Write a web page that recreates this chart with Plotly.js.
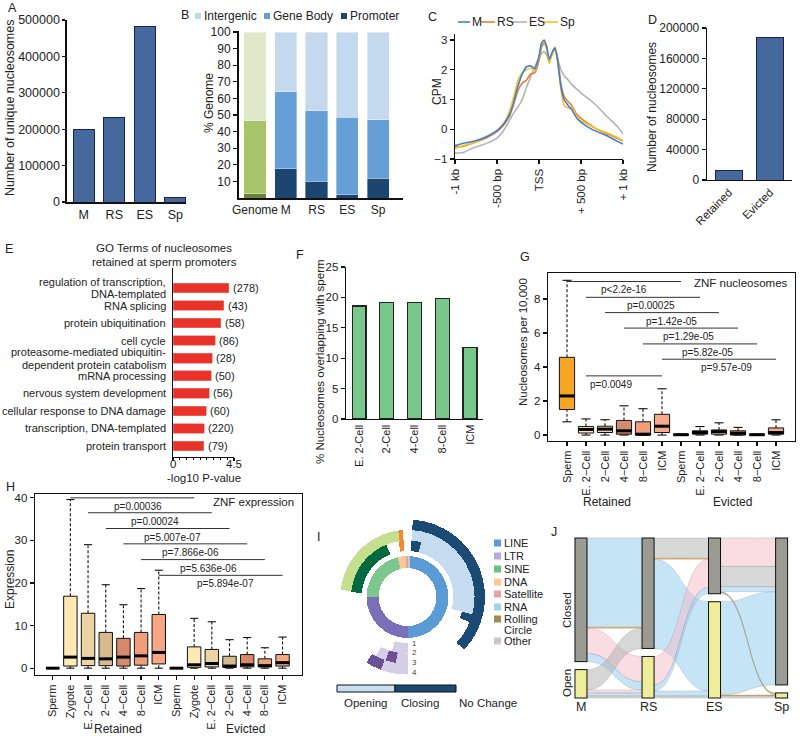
<!DOCTYPE html>
<html><head><meta charset="utf-8">
<script src="https://cdn.plot.ly/plotly-3.0.1.min.js"></script>
<style>html,body{margin:0;padding:0;background:#fff}#chart{width:800px;height:738px}</style>
</head><body><div id="chart"></div>
<script>
// ================= DATA =================
// A
const aCats = ['M', 'RS', 'ES', 'Sp'];
const aVals = [200000, 232000, 481000, 12000];
// B
const bCats = ['Genome', 'M', 'RS', 'ES', 'Sp'];
const bPromoter = [2.5, 17.5, 10, 2, 12];
const bGeneBody = [44, 46.5, 42.5, 46.5, 35];
const bIntergenic = [53.5, 36, 47.5, 51.5, 53];
// C
const cPos = [-1000,-900,-800,-700,-600,-500,-450,-400,-350,-300,-250,-200,-150,-100,-50,0,30,60,90,120,160,190,220,260,300,340,390,450,530,610,690,810,930,1000];
const cM  = [-0.55,-0.47,-0.42,-0.34,-0.22,-0.05,0.08,0.25,0.5,0.92,1.45,1.85,2.1,2.13,2.03,2.45,2.9,3.0,2.8,2.35,2.6,2.72,2.35,1.45,1.0,0.82,0.65,0.37,0.17,0.03,-0.08,-0.22,-0.4,-0.5];
const cRS = [-0.6,-0.57,-0.48,-0.38,-0.25,-0.08,0.05,0.22,0.45,0.85,1.3,1.55,1.65,1.85,1.9,2.3,2.75,2.9,2.75,2.3,2.6,2.75,2.4,1.55,1.1,0.95,0.8,0.5,0.3,0.15,0.0,-0.15,-0.3,-0.4];
const cES = [-0.8,-0.78,-0.65,-0.55,-0.45,-0.3,-0.15,0.05,0.3,0.55,0.75,1.0,1.4,1.75,2.1,2.4,2.55,2.6,2.5,2.3,2.55,2.7,2.4,2.0,1.8,1.68,1.5,1.35,1.15,0.98,0.78,0.43,0.1,-0.15];
const cSp = [-0.65,-0.55,-0.47,-0.36,-0.22,-0.05,0.1,0.3,0.6,1.1,1.65,1.9,2.0,2.05,2.0,2.4,2.85,2.95,2.7,2.2,2.55,2.7,2.3,1.35,0.8,0.72,0.72,0.45,0.25,0.12,0.0,-0.12,-0.28,-0.38];
const cTickVals = [-1000, -500, 0, 500, 1000];
const cTickText = ['-1 kb', '-500 bp', 'TSS', '+ 500 bp', '+ 1 kb'];
// D
const dCats = ['Retained', 'Evicted'];
const dVals = [13000, 188000];
// E
const eTerms = ['regulation of transcription,<br>DNA-templated', 'RNA splicing', 'protein ubiquitination', 'cell cycle',
  'proteasome-mediated ubiquitin-<br>dependent protein catabolism', 'mRNA processing', 'nervous system development',
  'cellular response to DNA damage', 'transcription, DNA-templated', 'protein transport'];
const eVals = [4.13, 3.76, 3.54, 3.10, 2.88, 2.83, 2.66, 2.46, 2.29, 2.26];
const eCounts = ['(278)', '(43)', '(58)', '(86)', '(28)', '(50)', '(56)', '(60)', '(220)', '(79)'];
const eTickVals = [0, 4.5];
const eTickText = ['0', '4.5'];
// F
const fCats = ['E. 2-Cell', '2-Cell', '4-Cell', '8-Cell', 'ICM'];
const fVals = [18.6, 19.1, 19.2, 19.8, 11.7];
// G
const gCats = ['Sperm', 'E. 2\u2212Cell', '2\u2212Cell', '4\u2212Cell', '8\u2212Cell', 'ICM', 'Sperm', 'E. 2\u2212Cell', '2\u2212Cell', '4\u2212Cell', '8\u2212Cell', 'ICM'];
const gLow  = [0.78, 0, 0, 0, 0, 0, 0, 0, 0, 0, 0, 0];
const gQ1   = [1.5, 0.12, 0.15, 0.05, 0.0, 0.15, 0, 0.05, 0.05, 0.0, 0, 0.05];
const gMed  = [2.3, 0.33, 0.35, 0.25, 0.05, 0.52, 0.02, 0.15, 0.2, 0.1, 0.02, 0.15];
const gQ3   = [4.57, 0.5, 0.52, 0.86, 0.78, 1.22, 0.05, 0.25, 0.3, 0.25, 0.05, 0.42];
const gHigh = [9.1, 0.95, 0.9, 1.72, 1.55, 2.72, 0.05, 0.5, 0.72, 0.45, 0.05, 0.9];
const gPairs = [[0, 6], [1, 7], [2, 8], [3, 9], [4, 10], [5, 11], [1, 5]];
const gPY = [9.03, 8.1, 7.2, 6.29, 5.36, 4.46, 3.48];
const gPText = ['p<2.2e-16', 'p=0.00025', 'p=1.42e-05', 'p=1.29e-05', 'p=5.82e-05', 'p=9.57e-09', 'p=0.0049'];
// H
const hCats = ['Sperm', 'Zygote', 'E. 2\u2212Cell', '2\u2212Cell', '4\u2212Cell', '8\u2212Cell', 'ICM', 'Sperm', 'Zygote', 'E. 2\u2212Cell', '2\u2212Cell', '4\u2212Cell', '8\u2212Cell', 'ICM'];
const hLow  = [0, 0, 0, 0, 0, 0, 0, 0, 0, 0, 0, 0, 0, 0];
const hQ1   = [0, 0.5, 0.6, 0.6, 0.5, 0.7, 1.0, 0, 0.2, 0.3, 0.2, 0.3, 0.3, 0.5];
const hMed  = [0, 2.6, 2.3, 2.2, 2.6, 2.9, 3.7, 0, 0.8, 1.1, 0.5, 0.8, 0.6, 1.3];
const hQ3   = [0.1, 16.9, 12.9, 8.4, 7.0, 8.4, 12.6, 0.1, 5.0, 4.4, 2.8, 3.2, 2.2, 3.2];
const hHigh = [0.1, 39.6, 29, 19.6, 14.9, 18.7, 23, 0.1, 11.7, 10.9, 6.7, 7.2, 4.8, 7.3];
const hPairs = [[1, 8], [2, 9], [3, 10], [4, 11], [5, 12], [6, 13]];
const hPY = [40.0, 36.5, 32.8, 29.2, 25.5, 21.8];
const hPText = ['p=0.00036', 'p=0.00024', 'p=5.007e-07', 'p=7.866e-06', 'p=5.636e-06', 'p=5.894e-07'];
// I (ring level, start/end angle in degrees clockwise from top, kind)
const iRing  = [1, 1, 1, 1, 1, 1,
  2, 2, 2, 2, 2, 2,
  3, 3, 3, 3, 3, 3,
  4, 4, 4];
const iStart = [4, 180, 270, 346, 358, 0,
  4, 14, 275, 351, 180, 188,
  4, 105, 276, 352, 180, 190,
  4, 180, 200];
const iEnd   = [180, 270, 346, 358, 360, 4,
  14, 105, 338, 356, 196, 192,
  105, 112, 352, 356, 208, 199,
  133, 200, 212];
const iKind  = ['LINE', 'LTR', 'SINE', 'DNA', 'Satellite', 'Other',
  'LINE-close', 'LINE-open', 'SINE-close', 'DNA-close', 'LTR-open', 'LTR-open',
  'LINE-open', 'LINE-close', 'SINE-open', 'DNA-close', 'LTR-open', 'LTR-close',
  'LINE-close', 'LTR-open', 'LTR-close'];
const iLegend = ['LINE', 'LTR', 'SINE', 'DNA', 'Satellite', 'RNA', 'Rolling', 'Circle', 'Other'];
// J (alluvial)
const jNodes = ['M Closed', 'M Open', 'RS Closed', 'RS Open', 'ES Closed', 'ES Open', 'Sp Closed', 'Sp Open'];
const jSource = [0, 0, 0, 0, 1, 1, 1, 1, 2, 2, 2, 3, 3, 3, 3, 5, 5, 5, 4, 4, 4, 4, 4];
const jTarget = [2, 2, 3, 3, 2, 3, 3, 3, 5, 4, 4, 4, 4, 5, 5, 6, 7, 7, 6, 6, 6, 7, 7];
const jValue  = [88, 1, 25, 8, 20, 3, 3, 2, 88, 20, 1, 28, 6, 5, 2, 92, 1, 2, 28, 20, 5, 1, 1];
const jType   = ['blue', 'orange', 'pink', 'blue', 'gray', 'pink', 'blue', 'gray', 'blue', 'gray', 'orange', 'pink', 'blue', 'blue', 'gray',
  'blue', 'orange', 'gray', 'pink', 'gray', 'blue', 'orange', 'blue'];

// ================= STYLE / HELPERS =================
const FONT = '"Liberation Sans", Arial, Helvetica, sans-serif';
const W = 800, H = 738;
const px = x => x / W, py = y => 1 - y / H;
const xd = (a, b) => [px(a), px(b)];
const yd = (top, bot) => [py(bot), py(top)];
const traces = [], annotations = [], shapes = [];
const TXT = '#222';
function ann(x, y, text, o) {
  return Object.assign({xref: 'paper', yref: 'paper', x: px(x), y: py(y), text: text, showarrow: false,
    font: {size: 11.5, color: TXT, family: FONT}, xanchor: 'center', yanchor: 'middle'}, o || {});
}
function rect(x0, y0, x1, y1, fill, line) {
  return {type: 'rect', xref: 'paper', yref: 'paper', x0: px(x0), x1: px(x1), y0: py(y0), y1: py(y1),
    fillcolor: fill, line: line || {width: 0}};
}
function ax(domain, extra) {
  return Object.assign({domain: domain, showline: true, linecolor: '#111', linewidth: 1.3, ticks: 'outside', ticklen: 4,
    tickwidth: 1.2, tickcolor: '#111', showgrid: false, zeroline: false, fixedrange: true,
    tickfont: {size: 11.5, family: FONT, color: TXT}}, extra);
}

// ---- A ----
traces.push({type: 'bar', x: aCats, y: aVals, width: 0.68, xaxis: 'x', yaxis: 'y',
  marker: {color: '#45699c', line: {color: '#1b1f5a', width: 1}}, hoverinfo: 'skip'});
// ---- B ----
const bCol = {
  pro: ['#6b7f3c', '#1c466f', '#1c466f', '#1c466f', '#1c466f'],
  gb: ['#a9c56c', '#659fd6', '#659fd6', '#659fd6', '#659fd6'],
  ig: ['#dfe9c9', '#c5d9ee', '#c5d9ee', '#c5d9ee', '#c5d9ee']
};
[[bPromoter, bCol.pro], [bGeneBody, bCol.gb], [bIntergenic, bCol.ig]].forEach(([v, c]) => {
  traces.push({type: 'bar', x: bCats, y: v, width: 0.72, xaxis: 'x2', yaxis: 'y2',
    marker: {color: c, line: {color: 'rgba(255,255,255,0.6)', width: 0.6}}, hoverinfo: 'skip'});
});
// ---- C ----
const cCols = {M: '#3f7fd4', RS: '#f27a36', ES: '#b3b3b3', Sp: '#f7c21a'};
[['ES', cES], ['RS', cRS], ['Sp', cSp], ['M', cM]].forEach(([n, v]) => {
  traces.push({type: 'scatter', mode: 'lines', x: cPos, y: v, xaxis: 'x3', yaxis: 'y3',
    line: {color: cCols[n], width: 1.6, shape: 'spline', smoothing: 0.4}, hoverinfo: 'skip'});
});
// ---- D ----
traces.push({type: 'bar', x: dCats, y: dVals, width: 0.68, xaxis: 'x4', yaxis: 'y4',
  marker: {color: '#45699c', line: {color: '#1b1f5a', width: 1}}, hoverinfo: 'skip'});
// ---- E ----
const eIdx = eTerms.map((_, i) => i);
traces.push({type: 'bar', orientation: 'h', y: eIdx, x: eVals, width: 0.55, xaxis: 'x5', yaxis: 'y5',
  marker: {color: '#e8322a', line: {color: '#f27a6e', width: 0.6}}, hoverinfo: 'skip'});
eVals.forEach((v, i) => annotations.push({xref: 'x5', yref: 'y5', x: v, y: i, text: eCounts[i], showarrow: false,
  xanchor: 'left', yanchor: 'middle', xshift: 2, font: {size: 11, family: FONT, color: TXT}}));
// category labels of E (two-line labels centred on their bar)
eTerms.forEach((t, i) => {
  const lines = t.split('<br>');
  lines.forEach((ln, k) => annotations.push({xref: 'paper', yref: 'y5', x: px(168), y: i, text: ln, showarrow: false,
    xanchor: 'right', yanchor: 'middle', yshift: (lines.length - 1) * 6.4 - k * 12.8, font: {size: 11, family: FONT, color: TXT}}));
});
eTickVals.forEach((v, k) => annotations.push({xref: 'x5', yref: 'paper', x: v, y: py(464), text: eTickText[k], showarrow: false,
  xanchor: 'center', yanchor: 'middle', font: {size: 11.5, family: FONT, color: TXT}}));
// ---- F ----
traces.push({type: 'bar', x: fCats, y: fVals, width: 0.5, xaxis: 'x6', yaxis: 'y6',
  marker: {color: '#78c88b', line: {color: '#222', width: 1.2}}, hoverinfo: 'skip'});

// ---- boxplots (G, H) ----
function boxes(xa, ya, lo, q1, md, q3, hi, cols, hw, cw) {
  const wx = [], wy = [], cx = [], cy = [], mx = [], my = [];
  lo.forEach((_, i) => {
    wx.push(i, i, null, i, i, null); wy.push(lo[i], q1[i], null, q3[i], hi[i], null);
    cx.push(i - cw, i + cw, null, i - cw, i + cw, null); cy.push(lo[i], lo[i], null, hi[i], hi[i], null);
    mx.push(i - hw, i + hw, null); my.push(md[i], md[i], null);
  });
  traces.push({type: 'scatter', mode: 'lines', x: wx, y: wy, xaxis: xa, yaxis: ya, line: {color: '#111', width: 1.1, dash: '3px,2px'}, hoverinfo: 'skip'});
  traces.push({type: 'scatter', mode: 'lines', x: cx, y: cy, xaxis: xa, yaxis: ya, line: {color: '#111', width: 1.1}, hoverinfo: 'skip'});
  lo.forEach((_, i) => {
    traces.push({type: 'scatter', mode: 'lines', x: [i - hw, i + hw, i + hw, i - hw, i - hw], y: [q1[i], q1[i], q3[i], q3[i], q1[i]],
      fill: 'toself', fillcolor: cols[i], line: {color: '#111', width: 1}, xaxis: xa, yaxis: ya, hoverinfo: 'skip'});
  });
  traces.push({type: 'scatter', mode: 'lines', x: mx, y: my, xaxis: xa, yaxis: ya, line: {color: '#000', width: 3}, hoverinfo: 'skip'});
}
function pLines(xa, ya, pairs, ys, labels, dx) {
  const lx = [], ly = [];
  pairs.forEach((p, i) => {
    lx.push(p[0], p[1], null); ly.push(ys[i], ys[i], null);
    annotations.push({xref: xa, yref: ya, x: (p[0] + p[1]) / 2 + (dx[i] || 0), y: ys[i], text: labels[i], showarrow: false,
      xanchor: 'center', yanchor: 'top', yshift: -1, font: {size: 10, family: FONT, color: TXT}});
  });
  traces.push({type: 'scatter', mode: 'lines', x: lx, y: ly, xaxis: xa, yaxis: ya, line: {color: '#333', width: 1}, hoverinfo: 'skip'});
}
const gCols = ['#f6a623', '#fdecb4', '#ecd6a2', '#d48a6c', '#f19e7e', '#f7a98b', '#f6a623', '#fdecb4', '#ecd6a2', '#d48a6c', '#f19e7e', '#f7a98b'];
boxes('x7', 'y7', gLow, gQ1, gMed, gQ3, gHigh, gCols, 0.4, 0.24);
pLines('x7', 'y7', gPairs, gPY, gPText, [0, 0.4, 0.5, 0.4, 0.4, 0.4, -0.7]);
const hCols = ['#fee8b3', '#fee8b3', '#edd3a3', '#d6b98c', '#d68a6b', '#f09d7c', '#f6a785', '#fee8b3', '#fee8b3', '#edd3a3', '#d6b98c', '#d68a6b', '#f09d7c', '#f6a785'];
boxes('x8', 'y8', hLow, hQ1, hMed, hQ3, hHigh, hCols, 0.38, 0.23);
pLines('x8', 'y8', hPairs, hPY, hPText, [0.3, 0.3, 0.3, 0.3, 0.3, 0.3]);

// ---- I (circular ring plot) ----
const iRadii = {1: [29, 41], 2: [46, 56.5], 3: [56.5, 67], 4: [67, 77.5]};
const iColors = {LINE: '#5b9bd5', LTR: '#7b70b8', SINE: '#7dc68e', DNA: '#fbc89b', Satellite: '#e6a3a3', Other: '#c8c8c8',
  'LINE-open': '#c5dcf0', 'LINE-close': '#1b4a74', 'SINE-open': '#c6df8e', 'SINE-close': '#006a3e', 'DNA-close': '#f08a2a',
  'LTR-open': '#d6cde6', 'LTR-close': '#6a5094'};
iRing.forEach((lv, k) => {
  const r = iRadii[lv];
  traces.push({type: 'barpolar', subplot: 'polar', theta: [(iStart[k] + iEnd[k]) / 2], width: [iEnd[k] - iStart[k]],
    base: [r[0]], r: [r[1] - r[0]], marker: {color: iColors[iKind[k]], line: {width: 0}}, hoverinfo: 'skip'});
});
const iLegCols = ['#5b9bd5', '#b8a8d6', '#6cc07e', '#fcc79a', '#e8a2a2', '#9fd6e4', '#9b8e55', null, '#c9c9c9'];
const iLegY = [543, 556, 569, 582, 594, 607, 619, 630, 641];
iLegend.forEach((t, k) => {
  const yy = iLegY[k];
  if (iLegCols[k]) shapes.push(rect(494, yy - 3.5, 501, yy + 3.5, iLegCols[k]));
  annotations.push(ann(502, yy, t, {xanchor: 'left', font: {size: 11, family: FONT, color: TXT}}));
});
['1', '2', '3', '4'].forEach((t, k) => annotations.push(ann(410, 643 + k * 9.7, t, {xanchor: 'left', font: {size: 8, family: FONT, color: '#444'}})));
shapes.push(rect(337, 685, 395, 692, '#c6dff2', {color: '#111', width: 1}));
shapes.push(rect(395, 685, 456, 692, '#1c4a75', {color: '#111', width: 1}));
annotations.push(ann(365, 703, 'Opening'), ann(420, 703, 'Closing'), ann(488, 703, 'No Change'));

// ---- J (alluvial / sankey) ----
const jTypeCol = {blue: 'rgba(150,208,240,0.55)', pink: 'rgba(245,185,200,0.5)', gray: 'rgba(175,175,175,0.5)', orange: 'rgba(247,160,30,0.95)'};
const jIn = jNodes.map(() => 0), jOut = jNodes.map(() => 0);
jValue.forEach((v, k) => { jOut[jSource[k]] += v; jIn[jTarget[k]] += v; });
const jTot = jNodes.map((_, i) => Math.max(jIn[i], jOut[i]));
const SK_H = 160, SK_PAD = 8;
const colSum = jTot[0] + jTot[1];
const ky = (SK_H - SK_PAD) / colSum;
const jColX = [0.028, 0.343, 0.655, 0.97];
const jx = [], jy = [];
for (let c = 0; c < 4; c++) {
  const hc = jTot[2 * c] * ky, ho = jTot[2 * c + 1] * ky;
  jx.push(jColX[c], jColX[c]);
  jy.push((hc / 2) / SK_H, (SK_H - ho / 2) / SK_H);
}
traces.push({type: 'sankey', arrangement: 'fixed', domain: {x: xd(575, 788), y: yd(538, 698)}, hoverinfo: 'none',
  node: {label: jNodes.map(() => ''), x: jx, y: jy, pad: SK_PAD, thickness: 12,
    color: jNodes.map((n) => n.indexOf('Closed') >= 0 ? '#9b9a93' : '#eeee9a'), line: {color: '#111', width: 1}, hoverinfo: 'none'},
  link: {source: jSource, target: jTarget, value: jValue, color: jType.map(t => jTypeCol[t]),
    line: {color: 'rgba(150,150,150,0.6)', width: 0.5}, hoverinfo: 'none'}});
annotations.push(ann(567, 610, 'Closed', {textangle: -90}), ann(567, 683, 'Open', {textangle: -90}));
[['M', 581], ['RS', 648], ['ES', 714], ['Sp', 781]].forEach(([t, x]) => annotations.push(ann(x, 707, t, {font: {size: 12.5, family: FONT, color: TXT}})));

// ---- legends B, C ----
[['#c5d9ee', 'Intergenic', 198], ['#659fd6', 'Gene Body', 267], ['#1c466f', 'Promoter', 344]].forEach(([c, t, x]) => {
  shapes.push(rect(x - 3, 13, x + 3, 19, c));
  annotations.push(ann(x + 4, 16, t, {xanchor: 'left', font: {size: 12, family: FONT, color: TXT}}));
});
[['M', 458, 470], ['RS', 481, 495], ['ES', 511, 527], ['Sp', 543, 558]].forEach(([n, x0, x1]) => {
  shapes.push({type: 'line', xref: 'paper', yref: 'paper', x0: px(x0), x1: px(x1), y0: py(22), y1: py(22), line: {color: cCols[n], width: 1.6}});
  annotations.push(ann(x1, 22, n, {xanchor: 'left', font: {size: 12, family: FONT, color: TXT}}));
});

// ---- panel letters / titles ----
[['A', 12, 8], ['B', 185, 15], ['C', 432, 17], ['D', 652, 20], ['E', 9, 249], ['F', 300, 255], ['G', 525, 257], ['H', 10, 487], ['I', 318, 537], ['J', 554, 532]]
  .forEach(([t, x, y]) => annotations.push(ann(x, y, t, {font: {size: 12.5, family: FONT, color: TXT}})));
annotations.push(
  ann(10, 108, 'Number of unique nucleosomes', {textangle: -90, font: {size: 12.5, family: FONT, color: TXT}}),
  ann(209, 103, '% Genome', {textangle: -90, font: {size: 12, family: FONT, color: TXT}}),
  ann(437, 92, 'CPM', {textangle: -90, font: {size: 12, family: FONT, color: TXT}}),
  ann(652, 107, 'Number of nucleosomes', {textangle: -90, font: {size: 12, family: FONT, color: TXT}}),
  ann(164, 248, 'GO Terms of nucleosomes'), ann(164, 262, 'retained at sperm promoters'),
  ann(204, 478, '-log10 P-value'),
  ann(320, 362, '% Nucleosomes overlapping with sperm', {textangle: -90}),
  ann(523, 342, 'Nucleosomes per 10,000', {textangle: -90}),
  ann(790, 283, 'ZNF nucleosomes', {xanchor: 'right'}),
  ann(607, 502, 'Retained', {font: {size: 12, family: FONT, color: TXT}}), ann(732, 502, 'Evicted', {font: {size: 12, family: FONT, color: TXT}}),
  ann(10, 580, 'Expression', {textangle: -90, font: {size: 12, family: FONT, color: TXT}}),
  ann(296, 502, 'ZNF expression', {xanchor: 'right'}),
  ann(118, 729, 'Retained', {font: {size: 12, family: FONT, color: TXT}}), ann(245, 729, 'Evicted', {font: {size: 12, family: FONT, color: TXT}})
);

const f125 = {size: 12.5, family: FONT, color: TXT}, f12 = {size: 12, family: FONT, color: TXT}, f11 = {size: 11, family: FONT, color: TXT};
const layout = {
  width: W, height: H, margin: {l: 0, r: 0, t: 0, b: 0}, paper_bgcolor: '#fff', plot_bgcolor: 'rgba(0,0,0,0)',
  showlegend: false, barmode: 'stack', font: {family: FONT, size: 11.5, color: TXT},
  xaxis: ax(xd(67, 186), {type: 'category', range: [-0.55, 3.35], ticks: '', anchor: 'y', tickfont: f125, linewidth: 1.6}),
  yaxis: ax(yd(20, 202), {range: [0, 500000], tickvals: [0, 100000, 200000, 300000, 400000, 500000], tickformat: 'd', anchor: 'x', tickfont: f125, linewidth: 1.6, ticklen: 3}),
  xaxis2: ax(xd(239, 403), {type: 'category', range: [-0.52, 4.81], ticks: '', anchor: 'y2', tickfont: f12, linewidth: 2}),
  yaxis2: ax(yd(31, 198), {range: [0, 100.6], tickvals: [10, 20, 30, 40, 50, 60, 70, 80, 90, 100], anchor: 'x2', tickfont: f12, linewidth: 2}),
  xaxis3: ax(xd(455, 623), {range: [-1000, 1000], tickvals: cTickVals, ticktext: cTickText, tickangle: -90, anchor: 'y3'}),
  yaxis3: ax(yd(34, 159), {range: [-1, 3.2], tickvals: [-1, 0, 1, 2, 3], anchor: 'x3'}),
  xaxis4: ax(xd(707, 792), {type: 'category', range: [-0.54, 1.54], ticks: '', tickangle: -45, anchor: 'y4'}),
  yaxis4: ax(yd(28, 180), {range: [0, 200000], tickvals: [0, 40000, 80000, 120000, 160000, 200000], tickformat: 'd', anchor: 'x4', tickfont: f12}),
  xaxis5: ax(xd(173, 234), {range: [0, 4.5], tickvals: eTickVals, showticklabels: false, anchor: 'y5', ticklen: 3,
    minor: {tickmode: 'linear', tick0: 0, dtick: 0.5, ticks: 'outside', ticklen: 2, tickcolor: '#111'}}),
  yaxis5: ax(yd(268, 457), {range: [9.63, -1.14], tickvals: eIdx, showticklabels: false, ticks: '', anchor: 'x5'}),
  xaxis6: ax(xd(346, 483), {type: 'category', range: [-0.47, 4.47], ticks: '', tickangle: -90, anchor: 'y6', tickfont: f11}),
  yaxis6: ax(yd(267, 419), {range: [0, 25], tickvals: [0, 5, 10, 15, 20, 25], anchor: 'x6'}),
  xaxis7: ax(xd(548, 795), {range: [-1, 12], tickvals: gCats.map((_, i) => i), ticktext: gCats, tickangle: -90, mirror: true, anchor: 'y7', tickfont: f11}),
  yaxis7: ax(yd(273, 441), {range: [-0.35, 9.53], tickvals: [0, 2, 4, 6, 8], mirror: true, anchor: 'x7'}),
  xaxis8: ax(xd(35, 302), {range: [-1, 14.1], tickvals: hCats.map((_, i) => i), ticktext: hCats, tickangle: -90, mirror: true, anchor: 'y8', tickfont: f11}),
  yaxis8: ax(yd(494, 675), {range: [-1.6, 40.9], tickvals: [0, 10, 20, 30, 40], mirror: true, anchor: 'x8'}),
  polar: {domain: {x: xd(327.5, 487.5), y: yd(517, 677)}, bgcolor: 'rgba(0,0,0,0)',
    radialaxis: {visible: false, range: [0, 80]}, angularaxis: {visible: false, rotation: 90, direction: 'clockwise'}},
  annotations: annotations, shapes: shapes
};
Plotly.newPlot('chart', traces, layout, {displayModeBar: false, staticPlot: true});
</script>
</body></html>
